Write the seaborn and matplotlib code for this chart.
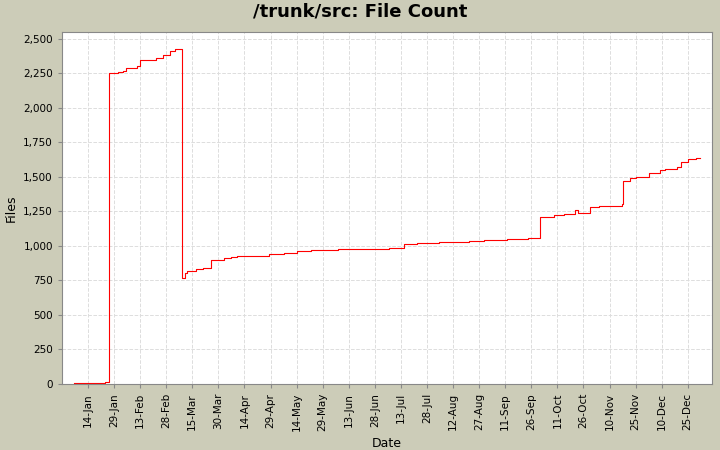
import pandas as pd
import matplotlib
matplotlib.use('Agg')
import matplotlib.pyplot as plt
import matplotlib.dates as mdates
import matplotlib.ticker as mticker
import seaborn as sns

# Data
dates = [
    '2007-01-06', '2007-01-24', '2007-01-26', '2007-01-31', '2007-02-03', '2007-02-05',
    '2007-02-11', '2007-02-13', '2007-02-22', '2007-02-26', '2007-03-02', '2007-03-05',
    '2007-03-09', '2007-03-11', '2007-03-12', '2007-03-17', '2007-03-21', '2007-03-26',
    '2007-04-02', '2007-04-06', '2007-04-10', '2007-04-28', '2007-05-07', '2007-05-14',
    '2007-05-22', '2007-06-07', '2007-06-22', '2007-07-06', '2007-07-15', '2007-07-22',
    '2007-08-04', '2007-08-21', '2007-08-30', '2007-09-12', '2007-09-24', '2007-10-01',
    '2007-10-09', '2007-10-15', '2007-10-21', '2007-10-23', '2007-10-30', '2007-11-04',
    '2007-11-17', '2007-11-18', '2007-11-22', '2007-11-25', '2007-12-03', '2007-12-09',
    '2007-12-12', '2007-12-19', '2007-12-21', '2007-12-25', '2007-12-30', '2008-01-01',
]
files = [
    5, 10, 2250, 2260, 2270, 2290,
    2300, 2350, 2360, 2380, 2410, 2430,
    770, 800, 820, 830, 840, 900,
    910, 920, 930, 940, 950, 960,
    970, 975, 980, 985, 1010, 1020,
    1030, 1035, 1040, 1050, 1060, 1210,
    1220, 1230, 1260, 1240, 1280, 1290,
    1300, 1470, 1490, 1500, 1530, 1550,
    1560, 1570, 1610, 1630, 1640, 1640,
]

df = pd.DataFrame({'Date': pd.to_datetime(dates), 'Files': files})

bg = '#CCCCB8'
fig = plt.figure(figsize=(7.2, 4.5), dpi=100, facecolor=bg)
ax = fig.add_axes([0.086, 0.147, 0.903, 0.782])
ax.set_facecolor('white')

sns.lineplot(data=df, x='Date', y='Files', ax=ax, color='red',
             linewidth=0.8, drawstyle='steps-post')

ticks = pd.date_range('2007-01-14', periods=24, freq='15D')
ax.xaxis.set_major_locator(mticker.FixedLocator(mdates.date2num(ticks)))
ax.xaxis.set_major_formatter(mdates.DateFormatter('%d-%b'))
ax.set_xlim(pd.Timestamp('2006-12-30'), pd.Timestamp('2008-01-08'))
ax.set_ylim(0, 2550)
ax.yaxis.set_major_locator(mticker.MultipleLocator(250))
ax.yaxis.set_major_formatter(mticker.FuncFormatter(lambda v, p: f'{int(v):,}'))
plt.setp(ax.get_xticklabels(), rotation=90)
ax.tick_params(labelsize=7.5, length=3, color='#888888')

ax.grid(True, color='#dddddd', linestyle='--', linewidth=0.7)
for s in ax.spines.values():
    s.set_color('#888888')

ax.set_xlabel('Date', fontsize=9)
ax.set_ylabel('Files', fontsize=9)
fig.suptitle('/trunk/src: File Count', fontsize=13, fontweight='bold', y=0.995)

fig.savefig('out.png', dpi=100, facecolor=bg)
